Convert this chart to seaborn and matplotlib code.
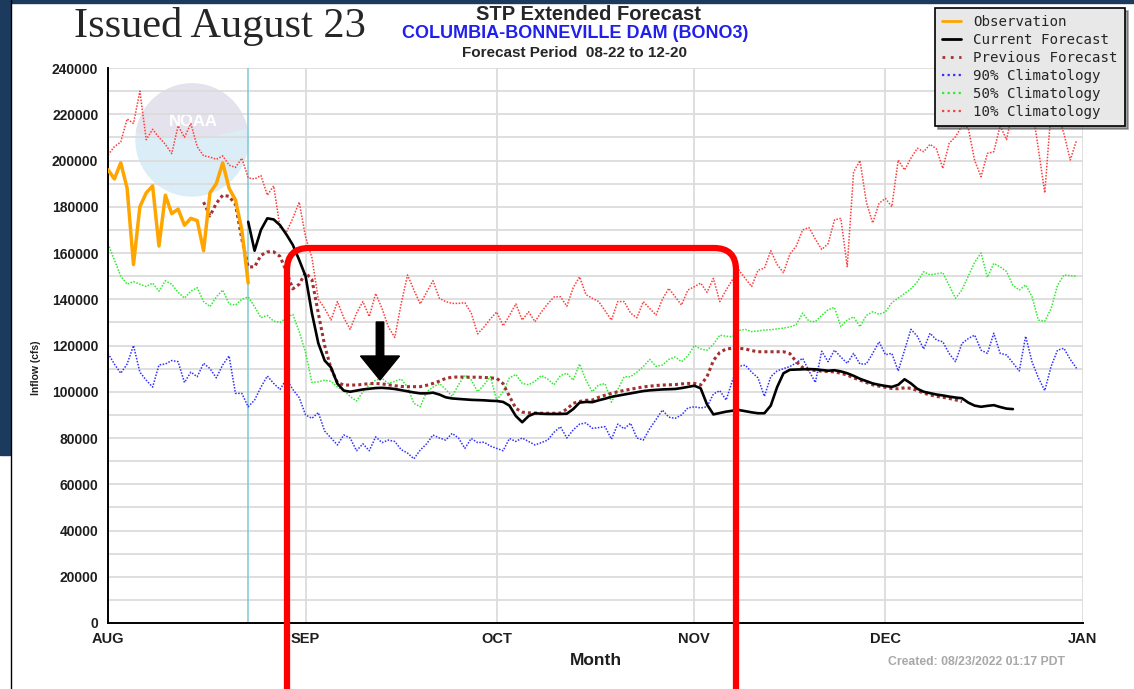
import pandas as pd
import seaborn as sns
import matplotlib.pyplot as plt
import matplotlib.dates as mdates
from matplotlib.ticker import MultipleLocator, FuncFormatter
from matplotlib.patches import FancyBboxPatch, FancyArrow, Circle, Wedge, Rectangle
from matplotlib.lines import Line2D

# inflow values in cfs (one value per day)
obs_start = '2022-08-01'
obs = [196000, 192000, 199000, 188000, 155000, 180000, 186000, 189000, 163000, 185000,
       177000, 179000, 172000, 175000, 174000, 161000, 186000, 190000, 199000, 188000,
       183000, 170000, 147000]

fcst_start = '2022-08-23'
fcst = [173500, 161000, 170000, 175000, 174500, 172000, 168000, 163500, 157000, 150000,
        134000, 121000, 113500, 110500, 103500, 100500, 100000, 100500, 101000, 101300,
        101600, 101700, 101500, 101200, 100700, 100200, 99700, 99300, 99300, 99600,
        98800, 97600, 97100, 96900, 96700, 96500, 96400, 96300, 96100, 96000,
        95600, 94000, 89500, 86800, 89500, 90700, 90500, 90400, 90400, 90400,
        90500, 92500, 95300, 95600, 95500, 96300, 97000, 97800, 98300, 98800,
        99300, 99800, 100300, 100600, 100800, 101000, 101100, 101200, 101600, 102100,
        102600, 101500, 94500, 90200, 90800, 91400, 91800, 92100, 91600, 91100,
        90700, 90700, 94000, 102000, 108000, 109500, 109600, 109700, 109800, 109700,
        109400, 109100, 109300, 108800, 108000, 106900, 105600, 104600, 103600, 103000,
        102500, 102100, 103000, 105400, 103600, 101300, 100000, 99400, 98800, 98400,
        97900, 97500, 97200, 95300, 94000, 93500, 93900, 94200, 93400, 92700,
        92500]

prev_start = '2022-08-16'
prev = [182000, 176000, 181500, 185000, 184500, 181000, 166000, 154000, 154000, 159000,
        160500, 160500, 158500, 152000, 144500, 146500, 151500, 148500, 134000, 120000,
        110000, 104000, 102900, 102900, 102900, 103200, 103500, 103600, 103400, 103000,
        102600, 102300, 102200, 102200, 102200, 102800, 103600, 104600, 105800, 106300,
        106400, 106300, 106300, 106300, 106200, 106000, 105800, 103500, 98000, 92800,
        91200, 90900, 90800, 90700, 90700, 90700, 90800, 92500, 95000, 95800,
        96300, 96400, 97600, 98500, 99300, 100000, 100600, 101100, 101600, 102100,
        102400, 102700, 102900, 103000, 103100, 103400, 103600, 103600, 102900, 106500,
        113500, 117000, 118500, 118800, 118800, 118500, 117800, 117300, 117300, 117300,
        117300, 117300, 116500, 113000, 110500, 109500, 109200, 108900, 108700, 108600,
        108000, 107200, 106000, 105000, 104000, 103000, 102400, 101900, 101400, 101300,
        101700, 101500, 100500, 99400, 98600, 98000, 97600, 97100, 96500, 95700]

clim_start = '2022-08-01'
clim90 = [116600, 112000, 108000, 112000, 120000, 108500, 105000, 102000, 111600, 112000,
          113500, 113000, 104000, 108500, 106500, 112300, 110000, 106000, 111600, 115500,
          99300, 99300, 93500, 96400, 102000, 106800, 103600, 101000, 105500, 101000,
          97500, 90000, 88500, 91000, 83000, 80000, 77000, 81300, 80000, 74500,
          77500, 74500, 80500, 78000, 79100, 78500, 75000, 73500, 71000, 74800,
          77500, 81300, 80000, 79100, 82000, 80000, 75500, 79800, 78000, 78200,
          76500, 75500, 74500, 79800, 78500, 80000, 78500, 77000, 78000, 79100,
          82500, 84900, 80000, 83500, 86000, 86500, 84200, 84500, 84900, 79500,
          86000, 84000, 86400, 80000, 79100, 84000, 88000, 92100, 89000, 88500,
          90000, 93000, 93500, 93000, 93500, 99000, 100500, 96400, 105000, 111000,
          111500, 108500, 106000, 98000, 106500, 109000, 110000, 110900, 112500, 114500,
          109000, 104000, 117500, 113000, 118000, 115000, 112300, 116600, 112000, 112000,
          116600, 121600, 116000, 116600, 109000, 118000, 127000, 124000, 118500, 125300,
          122400, 121600, 116500, 113000, 120900, 123000, 124500, 118000, 116600, 125300,
          116600, 115900, 112500, 109000, 124000, 113000, 106000, 100500, 111000, 118000,
          118800, 114000, 110100]

clim50 = [164000, 157000, 150000, 146500, 147600, 146500, 145500, 147000, 143500, 148000,
          146500, 143000, 140500, 143500, 145000, 139000, 136800, 141000, 144000, 138000,
          137500, 140000, 141000, 136800, 132000, 133000, 130500, 130000, 132000, 133500,
          126000, 117000, 104000, 104300, 105000, 104500, 102000, 100500, 98000, 96000,
          100000, 103000, 105000, 105800, 103600, 104500, 105500, 102000, 95000, 93500,
          100000, 102000, 103600, 101000, 98000, 103000, 107200, 105100, 100000, 103000,
          106500, 96400, 100000, 106000, 107500, 103600, 103000, 104500, 107000, 105500,
          103000, 107000, 108000, 105000, 112000, 105000, 100000, 103000, 103500, 95500,
          101000, 106500, 106500, 108500, 110900, 114000, 111000, 111500, 114000, 115000,
          113000, 115500, 120000, 118500, 118000, 120500, 124500, 124000, 123800, 126500,
          127000, 126000, 126300, 126700, 126800, 127200, 127500, 128000, 129000, 134000,
          130500, 130300, 133000, 135500, 136500, 128100, 131000, 132400, 128100, 133000,
          134600, 133500, 134500, 138500, 140500, 142500, 144500, 147500, 151900, 150500,
          151000, 151500, 146000, 140400, 144000, 150000, 156000, 160000, 149500, 155500,
          154000, 152000, 146000, 144000, 146200, 141100, 131000, 130500, 136000, 146000,
          150500, 150200, 150000]

clim10 = [202400, 206000, 208000, 218000, 216000, 230000, 209000, 213500, 210000, 207000,
          203000, 215000, 210000, 216000, 206000, 202000, 201500, 200500, 202000, 198000,
          197000, 201000, 192500, 192000, 193500, 185000, 189000, 171000, 169000, 175000,
          182000, 167000, 158000, 140000, 136000, 131000, 139000, 132000, 127000, 134000,
          139000, 132500, 142500, 136000, 128000, 123500, 138000, 150500, 144000, 138000,
          143000, 148000, 140400, 139000, 138200, 138200, 138500, 134000, 125000, 128000,
          131500, 134500, 128500, 133000, 138000, 131000, 134600, 130300, 134500, 138000,
          141000, 141100, 137000, 145000, 149700, 142000, 140400, 139000, 135000, 131000,
          139000, 139000, 134000, 132000, 139000, 136000, 133200, 140000, 144700, 141100,
          137500, 144000, 145400, 147000, 143000, 149000, 139000, 144000, 148500, 152600,
          149000, 145500, 152600, 153400, 161000, 155000, 151500, 159500, 163000, 170000,
          171000, 166000, 161500, 164000, 174300, 175000, 154100, 195000, 200000, 182000,
          173000, 181500, 183600, 180000, 200200, 195900, 201000, 205300, 203800, 207000,
          205000, 196600, 207500, 210300, 215000, 214000, 200000, 193000, 203100, 203800,
          215000, 209000, 222000, 224000, 221000, 223000, 205000, 186000, 222000, 220000,
          211700, 200200, 208900]

issue_date = '2022-08-23'
month_ticks = ['2022-08-01', '2022-09-01', '2022-10-01', '2022-11-01', '2022-12-01', '2023-01-01']
month_labels = ['AUG', 'SEP', 'OCT', 'NOV', 'DEC', 'JAN']

legend_labels = ['Observation', 'Current Forecast', 'Previous Forecast',
                 '90% Climatology', '50% Climatology', '10% Climatology']

# colours
c_obs = '#ffa500'
c_fcst = 'black'
c_prev = '#a33131'
c_90 = '#3030ff'
c_50 = '#2cec2c'
c_10 = '#ff3c3c'

sns.set_style('white')
plt.rcParams['font.family'] = ['Liberation Sans', 'DejaVu Sans']

W, H = 1134, 689
fig = plt.figure(figsize=(W / 100, H / 100), dpi=100)
ax = fig.add_axes([108 / W, (H - 623) / H, 975 / W, 555 / H])
inch = fig.dpi_scale_trans


def px(x, y):
    # pixel position (from top-left) -> inches for dpi_scale_trans
    return x / 100, (H - y) / 100


# faded NOAA logo behind the lines
logo_c = px(192, 140)
ax.add_patch(Circle(logo_c, 0.56, color='#dbeef7', transform=inch, zorder=0.3, clip_on=False))
ax.add_patch(Wedge(logo_c, 0.56, 12, 172, color='#e4e3ed', transform=inch, zorder=0.31,
                   clip_on=False))
ax.text(*px(193, 121), 'NOAA', transform=inch, color='white', fontsize=12,
        fontweight='bold', ha='center', va='center', zorder=0.32)

# daily series
clim_dates = pd.date_range(clim_start, periods=len(clim10), freq='D')
for vals, col in [(clim90, c_90), (clim50, c_50), (clim10, c_10)]:
    sns.lineplot(x=clim_dates, y=vals, ax=ax, color=col, lw=1.1,
                 linestyle=(0, (1, 1)), estimator=None, zorder=2)

sns.lineplot(x=pd.date_range(prev_start, periods=len(prev), freq='D'), y=prev, ax=ax,
             color=c_prev, lw=2.2, linestyle=(0, (1, 1)), estimator=None, zorder=3)
sns.lineplot(x=pd.date_range(fcst_start, periods=len(fcst), freq='D'), y=fcst, ax=ax,
             color=c_fcst, lw=1.9, estimator=None, zorder=4)
sns.lineplot(x=pd.date_range(obs_start, periods=len(obs), freq='D'), y=obs, ax=ax,
             color=c_obs, lw=2.5, estimator=None, zorder=4)

ax.axvline(mdates.date2num(pd.Timestamp(issue_date)), color='#7ccad6', lw=1.1, zorder=1.5)

# axes
tick_pos = mdates.date2num(pd.to_datetime(month_ticks))
ax.set_xlim(tick_pos[0], tick_pos[-1])
ax.set_ylim(0, 240000)
ax.set_xticks(tick_pos)
ax.set_xticklabels(month_labels)
ax.yaxis.set_major_locator(MultipleLocator(20000))
ax.yaxis.set_minor_locator(MultipleLocator(10000))
ax.yaxis.set_major_formatter(FuncFormatter(lambda v, p: f'{int(v)}'))

ax.grid(True, which='both', axis='y', color='#dcdcdc', lw=1.3)
ax.grid(True, which='major', axis='x', color='#dcdcdc', lw=1.3)
ax.set_axisbelow(True)

sns.despine(ax=ax)
for s in ['left', 'bottom']:
    ax.spines[s].set_color('black')
    ax.spines[s].set_linewidth(1.4)

ax.tick_params(axis='both', which='both', direction='in', length=5, width=1.2,
               color='black', labelcolor='#1e1e1e')
ax.tick_params(axis='y', labelsize=10, pad=7)
ax.tick_params(axis='x', labelsize=10.5, pad=6.5)
plt.setp(ax.get_xticklabels() + ax.get_yticklabels(), fontweight='bold')

ax.set_xlabel('Month', fontsize=12.5, fontweight='bold', color='#1e1e1e')
ax.xaxis.set_label_coords(0.5, -0.054)
ax.set_ylabel('Inflow (cfs)', fontsize=7.5, fontweight='bold', color='#1e1e1e')
ax.yaxis.set_label_coords(-0.069, 0.46)

# titles
fig.text(220 / W, 1 - 37 / H, 'Issued August 23', family='Liberation Serif',
         fontsize=30.5, ha='center', va='baseline')
fig.text(588 / W, 1 - 15 / H, 'STP Extended Forecast', fontsize=14.5,
         fontweight='bold', ha='center', va='center')
fig.text(575 / W, 1 - 33 / H, 'COLUMBIA-BONNEVILLE DAM (BONO3)', fontsize=13,
         fontweight='bold', color='#2020ee', ha='center', va='center')
fig.text(574 / W, 1 - 53 / H, 'Forecast Period  08-22 to 12-20', fontsize=11,
         fontweight='bold', ha='center', va='center')
fig.text(976 / W, 1 - 662 / H, 'Created: 08/23/2022 01:17 PDT', fontsize=8.8,
         fontweight='bold', color='#a8a8a8', ha='center', va='center')

# legend
handles = [Line2D([], [], color=c_obs, lw=2),
           Line2D([], [], color=c_fcst, lw=2),
           Line2D([], [], color=c_prev, lw=2, linestyle=(0, (1, 2))),
           Line2D([], [], color=c_90, lw=1.6, linestyle=(0, (1, 1.5))),
           Line2D([], [], color=c_50, lw=1.6, linestyle=(0, (1, 1.5))),
           Line2D([], [], color=c_10, lw=1.6, linestyle=(0, (1, 1.5)))]
leg = fig.legend(handles, legend_labels, loc='upper right',
                 bbox_to_anchor=(1125 / W, 1 - 8 / H), bbox_transform=fig.transFigure,
                 prop={'family': 'DejaVu Sans Mono', 'size': 10.2},
                 frameon=True, fancybox=False, shadow=True, facecolor='#e8e8e8',
                 edgecolor='black', framealpha=1, borderaxespad=0,
                 handlelength=1.3, handletextpad=0.9, labelspacing=0.28, borderpad=0.5)
leg.get_frame().set_linewidth(1.2)
leg.set_zorder(10)

# slide decorations: navy edge, annotation box and arrow
fig.add_artist(Rectangle(px(0, 455), 0.10, 4.55, transform=inch, color='#1b3a5e', zorder=-1))
fig.add_artist(Rectangle(px(0, 3), W / 100, 0.03, transform=inch, color='#1b3a5e', zorder=-1))
fig.add_artist(Line2D([0.105, 0.105], [0, H / 100], transform=inch, color='black', lw=1))

box_x0, box_top = px(287, 248)
fig.add_artist(FancyBboxPatch((box_x0, -0.5), (736 - 287) / 100, box_top + 0.5,
                              boxstyle='round,pad=0,rounding_size=0.22', transform=inch,
                              fill=False, ec='#ff0000', lw=4.5, zorder=6))
ax_x, ax_y = px(380, 322)
fig.add_artist(FancyArrow(ax_x, ax_y, 0, -0.58, width=0.075, head_width=0.39,
                          head_length=0.24, length_includes_head=True, color='black',
                          transform=inch, zorder=6))

fig.savefig('out.png', dpi=100)
